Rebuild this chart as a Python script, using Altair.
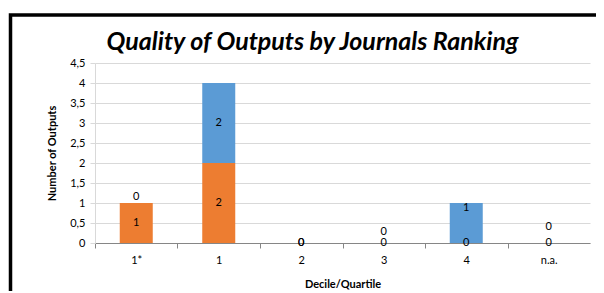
import altair as alt
import pandas as pd

categories = ["1*", "1", "2", "3", "4", "n.a."]
orange_values = [1, 2, 0, 0, 0, 0]
blue_values = [0, 2, 0, 0, 1, 0]
# Excel moves some labels to avoid overlap (pixel shifts)
blue_label_shift = [-6, 0, 0, -11, -15, -16]
y_ticks = [0, 0.5, 1, 1.5, 2, 2.5, 3, 3.5, 4, 4.5]

ORANGE = "#ED7D31"
BLUE = "#5B9BD5"
FONT = "Lato"

W, H = 495, 180
YMAX = 4.5
px_per_unit = H / YMAX

rows = []
for i, c in enumerate(categories):
    o, b = orange_values[i], blue_values[i]
    rows.append({"cat": c, "series": "A", "order": 0, "value": o,
                 "lab": o / 2})
    rows.append({"cat": c, "series": "B", "order": 1, "value": b,
                 "lab": o + b / 2 - blue_label_shift[i] / px_per_unit})
df = pd.DataFrame(rows)

step = W / len(categories)

xaxis = alt.Axis(title="Decile/Quartile", labelAngle=0,
                 domainColor="#868686", tickColor="#868686",
                 tickSize=5, tickOffset=-step / 2,
                 labelOffset=step / 2, labelPadding=6,
                 labelFont=FONT, labelFontSize=11, labelColor="#000000",
                 titleFont=FONT, titleFontSize=11, titleFontWeight="bold",
                 titleColor="#000000", titlePadding=13)
xscale = alt.Scale(paddingInner=0.6, paddingOuter=0.3)

yaxis = alt.Axis(title="Number of Outputs",
                 values=y_ticks,
                 labelExpr="replace(toString(datum.value), '.', ',')",
                 labelOverlap=False,
                 grid=True, gridColor="#D9D9D9",
                 domainColor="#D9D9D9", tickColor="#D9D9D9", tickSize=5,
                 labelFont=FONT, labelFontSize=11, labelColor="#000000",
                 labelPadding=5,
                 titleFont=FONT, titleFontSize=11, titleFontWeight="bold",
                 titleColor="#000000", titlePadding=12)
yscale = alt.Scale(domain=[0, YMAX], nice=False)

bars = alt.Chart(df).mark_bar().encode(
    x=alt.X("cat:N", sort=categories, scale=xscale, axis=xaxis),
    y=alt.Y("value:Q", stack="zero", scale=yscale, axis=yaxis),
    color=alt.Color("series:N", scale=alt.Scale(domain=["A", "B"], range=[ORANGE, BLUE]),
                    legend=None),
    order=alt.Order("order:Q"),
)

labels = alt.Chart(df).mark_text(font=FONT, fontSize=11, color="#000000",
                                 baseline="middle").encode(
    x=alt.X("cat:N", sort=categories, scale=xscale, axis=xaxis),
    y=alt.Y("lab:Q", scale=yscale, axis=yaxis),
    text=alt.Text("value:Q"),
)

title = alt.Chart(alt.Data(values=[{"t": "Quality of Outputs by Journals Ranking"}])).mark_text(
    font=FONT, fontSize=25, fontStyle="italic", fontWeight="bold", color="#000000",
    align="center", baseline="alphabetic").encode(
    x=alt.value(217.5), y=alt.value(-13), text="t:N")

frame = alt.Chart(alt.Data(values=[{}])).mark_rect(
    fill=None, stroke="#000000", strokeWidth=3.5).encode(
    x=alt.value(-84.5), x2=alt.value(700), y=alt.value(-48), y2=alt.value(400))

chart = alt.layer(bars, labels, title, frame).properties(
    width=W, height=H,
    autosize=alt.AutoSizeParams(type="none"),
    padding={"left": 87, "top": 55, "right": 6, "bottom": 48},
).configure_view(stroke=None)

chart.save("out.html", embed_options={"renderer": "svg", "actions": False})
